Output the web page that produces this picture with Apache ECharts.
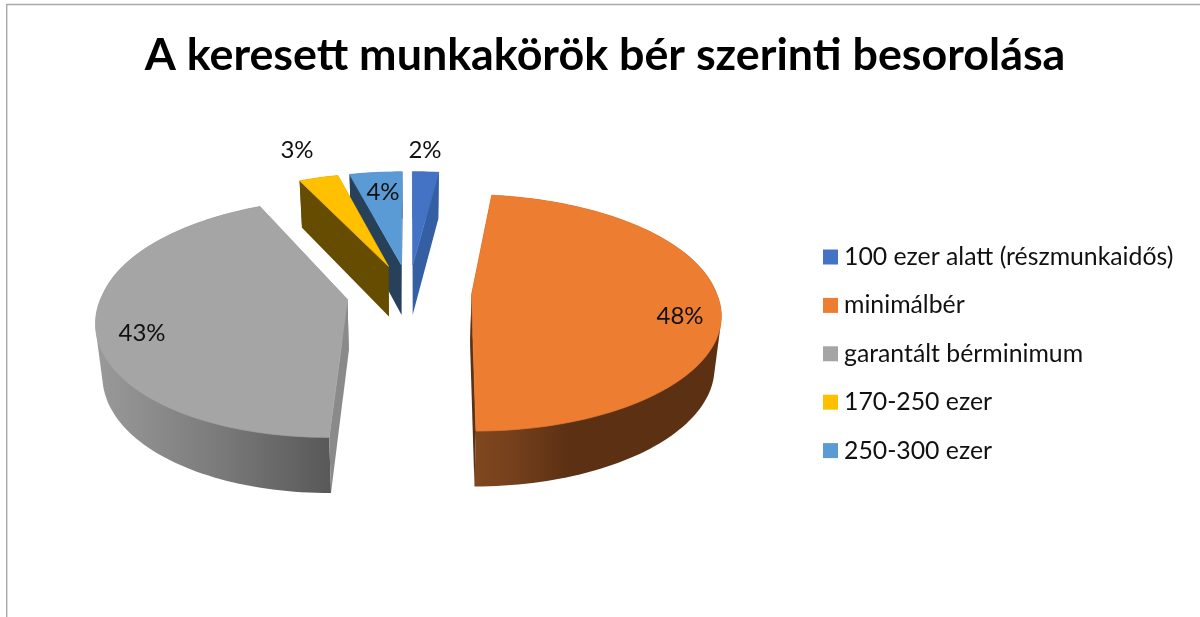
<!DOCTYPE html>
<html><head><meta charset="utf-8">
<style>html,body{margin:0;padding:0;background:#fff}#c{width:1200px;height:617px}</style>
<script src="https://cdn.jsdelivr.net/npm/echarts@6/dist/echarts.min.js"></script>
</head><body><div id="c"></div>
<script>
const titleText = 'A keresett munkakörök bér szerinti besorolása';
const categories = ['100 ezer alatt (részmunkaidős)', 'minimálbér', 'garantált bérminimum', '170-250 ezer', '250-300 ezer'];
const sliceValues = [2, 48, 43, 3, 4];

// styling
const topColors = ['#4472C4', '#ED7D31', '#A5A5A5', '#FFC000', '#5B9BD5'];
const cutColors = ['#355FA3', '#5C3013', '#8A8A8A', '#664C00', '#264159'];
const wallStops = [
  [[0, '#355FA3'], [1, '#355FA3']],
  [[0, '#80471F'], [0.16, '#74401C'], [0.38, '#5C3013'], [1, '#5C3013']],
  [[0, '#9A9A9A'], [0.5, '#7C7C7C'], [1, '#585858']],
  [[0, '#664C00'], [1, '#664C00']],
  [[0, '#264159'], [1, '#264159']]
];
const drawOrder = [1, 5, 4, 3, 2]; // painter's order per slice
const labelAt = [[425, 150], [680, 316], [142, 333], [297, 150], [383, 192]];

// camera of the 3D pie
const view = { cx: 409, cy: 293, rx: 245, ry: 115, k: 0.151, backX: 0.85, depth: 51, explode: 0.255, shear: 6.5, baseScale: 0.978 };
const total = sliceValues.reduce((a, b) => a + b, 0);
const rad = d => d * Math.PI / 180;

function project(X, Y, isBase) {
  const w = 1 - view.k * Y;
  const wx = Y < 0 ? 1 - view.k * view.backX * Y : w;
  let x = X * view.rx / wx - view.shear * Math.pow(Math.max(Y, 0), 2);
  let y = Y * view.ry / w;
  if (isBase) { y += view.depth / Math.sqrt(w); x *= view.baseScale; }
  return [view.cx + x, view.cy + y];
}
function sliceGeom(i) {
  let acc = 0;
  for (let j = 0; j < i; j++) acc += sliceValues[j];
  const a0 = acc / total * 360, a1 = (acc + sliceValues[i]) / total * 360, mid = rad((a0 + a1) / 2);
  const ox = view.explode * Math.sin(mid), oy = -view.explode * Math.cos(mid);
  const rim = t => [ox + Math.sin(rad(t)), oy - Math.cos(rad(t))];
  const steps = Math.max(2, Math.ceil((a1 - a0) / 1.5));
  const arc = [];
  for (let s = 0; s <= steps; s++) arc.push(rim(a0 + (a1 - a0) * s / steps));
  return { apex: [ox, oy], arc };
}
function convexHull(points) {
  const pts = points.slice().sort((a, b) => a[0] - b[0] || a[1] - b[1]);
  const cross = (o, a, b) => (a[0] - o[0]) * (b[1] - o[1]) - (a[1] - o[1]) * (b[0] - o[0]);
  const half = list => {
    const out = [];
    for (const p of list) {
      while (out.length > 1 && cross(out[out.length - 2], out[out.length - 1], p) <= 0) out.pop();
      out.push(p);
    }
    out.pop();
    return out;
  };
  return half(pts).concat(half(pts.slice().reverse()));
}
function poly(points, fill, z2, stroke) {
  return { type: 'polygon', z2, shape: { points }, style: { fill, stroke: stroke || null, lineWidth: stroke ? 0.7 : 0 } };
}
function renderSlice(params) {
  const i = params.seriesIndex;
  const g = sliceGeom(i);
  const topArc = g.arc.map(p => project(p[0], p[1], false));
  const baseArc = g.arc.map(p => project(p[0], p[1], true));
  const apexT = project(g.apex[0], g.apex[1], false), apexB = project(g.apex[0], g.apex[1], true);
  const n = topArc.length - 1;
  const grad = new echarts.graphic.LinearGradient(0, 0, 1, 0,
    wallStops[i].map(s => ({ offset: s[0], color: s[1] })));
  return { type: 'group', children: [
    poly(convexHull(topArc.concat(baseArc)), grad, 1),
    poly([apexT, topArc[0], baseArc[0], apexB], cutColors[i], 2),
    poly([apexT, topArc[n], baseArc[n], apexB], cutColors[i], 2),
    poly([apexT].concat(topArc), topColors[i], 3, topColors[i])
  ] };
}

const chart = echarts.init(document.getElementById('c'), null, { renderer: 'canvas' });
chart.setOption({
  animation: false,
  backgroundColor: '#fff',
  title: {
    text: titleText, left: 600, top: 28, textAlign: 'center',
    textStyle: { fontFamily: 'Lato', fontWeight: 'bold', fontSize: 44.8, color: '#000' }
  },
  legend: {
    orient: 'vertical', left: 818, top: 239, icon: 'rect', itemWidth: 15, itemHeight: 15, itemGap: 22.4,
    data: categories, selectedMode: false,
    textStyle: { fontFamily: 'Lato', fontSize: 24.8, color: '#111', lineHeight: 26, padding: [0, 0, 0, 1] }
  },
  graphic: [
    { type: 'line', silent: true, shape: { x1: 6.7, y1: 4.5, x2: 1200, y2: 4.5 }, style: { stroke: '#A9A9A9', lineWidth: 1.4 } },
    { type: 'line', silent: true, shape: { x1: 6.7, y1: 4, x2: 6.7, y2: 617 }, style: { stroke: '#A9A9A9', lineWidth: 1.4 } }
  ].concat(sliceValues.map((v, i) => ({
    type: 'text', z: 20, silent: true, x: labelAt[i][0], y: labelAt[i][1],
    style: { text: v + '%', fontFamily: 'Lato', fontSize: 24, fill: '#111', align: 'center', verticalAlign: 'middle' }
  }))),
  series: categories.map((name, i) => ({
    type: 'custom', name, coordinateSystem: 'none', z: drawOrder[i], silent: true,
    itemStyle: { color: topColors[i] },
    renderItem: renderSlice, data: [sliceValues[i]]
  }))
});
</script></body></html>
